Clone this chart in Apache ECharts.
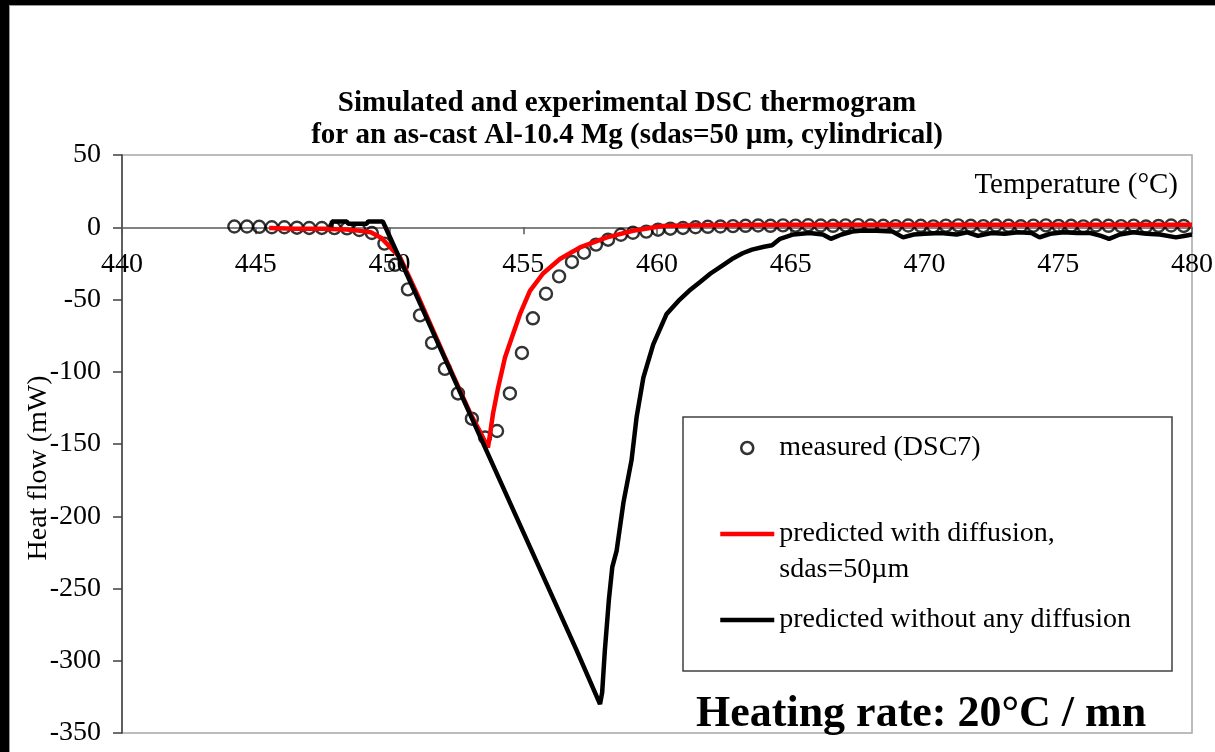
<!DOCTYPE html>
<html>
<head>
<meta charset="utf-8">
<script src="https://cdn.jsdelivr.net/npm/echarts@6/dist/echarts.min.js"></script>
<style>
  html, body { margin: 0; padding: 0; background: #000; width: 1215px; height: 752px; overflow: hidden; }
  #paper { position: absolute; left: 9px; top: 5px; right: 0; bottom: 0; background: #fff;
           border-left: 1px solid #9a9a9a; border-top: 1px solid #9a9a9a; }
  #chart { position: absolute; left: 0; top: 0; width: 1215px; height: 752px; }
</style>
</head>
<body>
<div id="paper"></div>
<div id="chart"></div>
<script>
// ---- data ----
const titleLines = ['Simulated and experimental DSC thermogram',
                    'for an as-cast Al-10.4 Mg (sdas=50 µm, cylindrical)'];
const xAxisTitle = 'Temperature (°C)';
const yAxisTitle = 'Heat flow (mW)';
const noteText = 'Heating rate: 20°C / mn';
const seriesNames = ['measured (DSC7)', 'predicted with diffusion,\nsdas=50µm', 'predicted without any diffusion'];

// measured DSC7 (open circles)
const measuredT = [444.2, 444.67, 445.13, 445.6, 446.07, 446.54, 447.0, 447.47, 447.94, 448.41, 448.87, 449.34, 449.81,
  450.21, 450.69, 451.14, 451.59, 452.07, 452.56, 453.08, 453.57, 454.02, 454.5, 454.95, 455.36, 455.85, 456.34,
  456.82, 457.27, 457.72, 458.17, 458.65, 459.1, 459.6, 460.04, 460.5,
  460.97, 461.44, 461.9, 462.37, 462.84, 463.31, 463.78, 464.24, 464.71, 465.18, 465.65, 466.12, 466.58, 467.05,
  467.52, 467.99, 468.46, 468.92, 469.39, 469.86, 470.33, 470.8, 471.26, 471.73, 472.2, 472.67, 473.14, 473.6,
  474.07, 474.54, 475.01, 475.48, 475.94, 476.41, 476.88, 477.35, 477.82, 478.28, 478.75, 479.22, 479.69];
const measuredV = [0.5, 0.5, 0.3, 0, 0, -0.3, -0.5, -0.5, -0.6, -0.8, -1.9, -4, -11.3,
  -26, -43, -61, -80, -98, -115, -132.5, -145.5, -141, -115, -87, -63, -46, -34,
  -24, -17.6, -12, -8.6, -5.2, -3.8, -3, -1.7, -1,
  -0.5, 0, 0.3, 0.5, 0.8, 1, 1.2, 1, 1.3, 1.1, 1.4, 1.2, 1, 1.3, 1.5, 1.2, 1, 0.8, 1.2, 1, 0.6, 1.1,
  1.3, 1, 0.8, 1.2, 1, 0.7, 1.1, 1.3, 0.9, 1, 0.6, 1.2, 1, 0.8, 1.1, 0.5, 0.9, 1.2, 0.9];

// predicted with diffusion, sdas = 50 µm (red)
const diffT = [445.5, 446.5, 447.5, 448.4, 448.9, 449.3, 449.7, 450.4, 451.0, 452.0, 453.0, 453.4, 453.68,
  453.76, 453.87, 454.06, 454.32, 454.58, 454.88, 455.25, 455.74, 456.37, 457.12, 458.13, 459.1, 460.2,
  461.5, 463.0, 465.0, 467.5, 470.0, 472.5, 475.0, 477.5, 480.0];
const diffV = [-0.5, -1, -1, -1.5, -2.5, -3.5, -7.5, -21, -45, -87, -128, -142, -152.5,
  -143, -129, -111, -90, -76, -60, -44, -32, -22, -14, -7, -2.4, 0.8,
  1.4, 1.6, 1.8, 1.8, 1.8, 1.8, 1.8, 1.8, 1.8];

// predicted without any diffusion (black)
const noDiffT = [447.82, 447.85, 448.4, 448.45, 449.15, 449.2, 449.75, 449.85, 451.0, 453.0, 455.0, 457.0, 457.87,
  457.95, 458.05, 458.2, 458.33, 458.49, 458.75, 459.05, 459.24, 459.49, 459.86, 460.36, 460.8,
  461.2, 461.6, 462.0, 462.4, 462.8, 463.2, 463.55, 464.0, 464.3, 464.6, 465.1, 465.7, 466.2, 466.5,
  466.9, 467.3, 467.6, 468.2, 468.8, 469.2, 469.6, 470.0, 470.6, 471.2, 471.6, 472.0, 472.5, 473.0,
  473.5, 474.0, 474.3, 474.7, 475.2, 475.7, 476.2, 476.6, 476.9, 477.3, 477.8, 478.3, 478.8, 479.4, 479.7, 480.0];
const noDiffV = [0, 4, 4, 2.5, 2.5, 4, 4, 0, -47, -129, -211, -293, -330,
  -322, -293, -258, -235, -224, -190, -161, -131, -104, -81, -60, -51,
  -44, -38, -32, -27, -22, -18, -15.5, -13.5, -12.5, -8, -5, -4, -5, -8,
  -5, -3, -2.5, -2.5, -3, -7, -5, -4.5, -4, -5, -3.5, -6, -4, -4.5,
  -3.5, -4, -7, -4.5, -3.5, -4, -4, -6, -8, -5, -3.5, -4.5, -5, -7, -6, -5];

const xTicks = { min: 440, max: 480, interval: 5 };
const yTicks = { min: -350, max: 50, interval: 50 };

// ---- build ----
const pairs = (xs, ys) => xs.map((x, i) => [x, ys[i]]);
const SERIF = '"Liberation Serif", "Times New Roman", serif';
const GRID = { left: 122, top: 155, width: 1070, height: 578 };
// two-line legend entry: keep its first line level with the icon
const legendFmt = name => (name.indexOf('\n') >= 0 ? '\n' + name : name);

const chart = echarts.init(document.getElementById('chart'), null, { renderer: 'canvas' });
const option = {
  animation: false,
  backgroundColor: 'transparent',
  grid: { left: GRID.left, top: GRID.top, width: GRID.width, height: GRID.height, show: true,
          outerBoundsMode: 'none', containLabel: false,
          borderColor: '#a6a6a6', borderWidth: 1.5, backgroundColor: 'transparent' },
  xAxis: {
    type: 'value', min: xTicks.min, max: xTicks.max, interval: xTicks.interval,
    position: 'bottom', offset: 0,
    axisLine: { onZero: false, lineStyle: { color: '#595959', width: 1.5 } },
    axisTick: { show: true, length: 7, lineStyle: { color: '#595959', width: 1.5 } },
    axisLabel: { fontFamily: SERIF, fontSize: 28, color: '#000', margin: 23, showMinLabel: true, showMaxLabel: true },
    splitLine: { show: false }
  },
  yAxis: {
    type: 'value', min: yTicks.min, max: yTicks.max, interval: yTicks.interval,
    axisLine: { show: true, onZero: false, lineStyle: { color: '#404040', width: 1.5 } },
    axisTick: { show: true, length: 9, lineStyle: { color: '#404040', width: 1.5 } },
    axisLabel: { fontFamily: SERIF, fontSize: 28, color: '#000', margin: 21 },
    splitLine: { show: false }
  },
  legend: {
    orient: 'vertical', left: 683, top: 417,
    padding: [13, 41, 33, 35], itemGap: 14, itemWidth: 54, itemHeight: 12,
    backgroundColor: '#fff', borderColor: '#404040', borderWidth: 1.5, borderRadius: 0,
    selectedMode: false, formatter: legendFmt,
    textStyle: { fontFamily: SERIF, fontSize: 28, color: '#000', lineHeight: 36 },
    data: [
      { name: seriesNames[0], itemStyle: { color: 'rgba(255,255,255,0)', borderColor: '#000', borderWidth: 2.6 } },
      { name: seriesNames[1],
        lineStyle: { color: '#ff0000', width: 4.5 },
        itemStyle: { color: 'rgba(0,0,0,0)', borderColor: 'rgba(0,0,0,0)', borderWidth: 0, opacity: 0 } },
      { name: seriesNames[2],
        lineStyle: { color: '#000', width: 4.5 },
        itemStyle: { color: 'rgba(0,0,0,0)', borderColor: 'rgba(0,0,0,0)', borderWidth: 0, opacity: 0 } }
    ]
  },
  graphic: [
    { type: 'text', x: 627, y: 120, z: 100,
      style: { text: titleLines.join('\n'), fontFamily: SERIF, fontSize: 29, fontWeight: 'bold',
               lineHeight: 32, fill: '#000', align: 'center', verticalAlign: 'middle',
               textAlign: 'center', textVerticalAlign: 'middle' } },
    { type: 'text', x: 1178, y: 185, z: 100,
      style: { text: xAxisTitle, fontFamily: SERIF, fontSize: 29, fill: '#000',
               align: 'right', verticalAlign: 'middle', textAlign: 'right', textVerticalAlign: 'middle' } },
    { type: 'text', x: 39, y: 468, rotation: Math.PI / 2, z: 100,
      style: { text: yAxisTitle, fontFamily: SERIF, fontSize: 28, fill: '#000',
               align: 'center', verticalAlign: 'middle', textAlign: 'center', textVerticalAlign: 'middle' } },
    { type: 'text', x: 696, y: 715, z: 100,
      style: { text: noteText, fontFamily: SERIF, fontSize: 44, fontWeight: 'bold', fill: '#000',
               align: 'left', verticalAlign: 'middle', textAlign: 'left', textVerticalAlign: 'middle' } }
  ],
  series: [
    { name: seriesNames[0], type: 'scatter', data: pairs(measuredT, measuredV),
      symbol: 'circle', symbolSize: 12,
      itemStyle: { color: 'rgba(255,255,255,0)', borderColor: '#000', borderWidth: 2.4 } },
    { name: seriesNames[1], type: 'line', data: pairs(diffT, diffV), symbol: 'none', showSymbol: false,
      lineStyle: { color: '#ff0000', width: 4.5 }, itemStyle: { color: '#ff0000' } },
    { name: seriesNames[2], type: 'line', data: pairs(noDiffT, noDiffV), symbol: 'none', showSymbol: false,
      lineStyle: { color: '#000', width: 4.5 }, itemStyle: { color: '#000' } }
  ]
};
chart.setOption(option);
// move the x axis (line, ticks, labels) up to the y = 0 line
const zeroY = chart.convertToPixel({ yAxisIndex: 0 }, 0);
chart.setOption({ xAxis: { offset: zeroY - (GRID.top + GRID.height) } });
</script>
</body>
</html>
